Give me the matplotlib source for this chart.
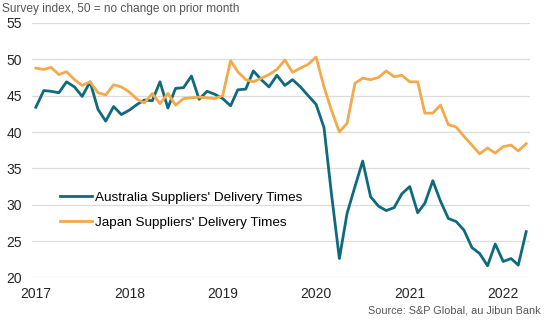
import numpy as np
import pandas as pd
import matplotlib.pyplot as plt
import matplotlib.dates as mdates

# monthly survey index, Jan 2017 - Apr 2022
months = pd.date_range('2017-01-01', periods=64, freq='MS')

australia = [43.4, 45.7, 45.6, 45.4, 46.9, 46.2, 44.9, 46.9, 43.1, 41.5, 43.5, 42.4,
             43.0, 43.8, 44.4, 44.3, 46.9, 43.3, 46.0, 46.1, 47.7, 44.5, 45.6, 45.2,
             44.6, 43.6, 45.8, 45.9, 48.4, 47.2, 46.2, 47.8, 46.4, 47.2, 46.2, 45.0,
             43.8, 40.6, 31.5, 22.6, 28.8, 32.5, 36.0, 31.1, 29.8, 29.2, 29.6, 31.5,
             32.5, 28.9, 30.2, 33.3, 30.5, 28.1, 27.7, 26.5, 24.1, 23.3, 21.6, 24.6,
             22.2, 22.6, 21.7, 26.3]

japan = [48.8, 48.6, 48.9, 47.9, 48.3, 47.2, 46.4, 46.9, 45.4, 45.1, 46.5, 46.2,
         45.5, 44.5, 44.0, 45.3, 43.9, 45.3, 43.7, 44.6, 44.7, 44.8, 44.7, 44.6,
         45.0, 49.8, 48.3, 47.2, 46.9, 47.4, 47.9, 48.6, 49.9, 48.2, 48.8, 49.3,
         50.3, 46.2, 43.0, 40.0, 41.2, 46.7, 47.4, 47.2, 47.5, 48.4, 47.6, 47.8,
         46.9, 46.9, 42.6, 42.6, 43.7, 41.0, 40.7, 39.4, 38.2, 37.0, 37.8, 37.1,
         38.0, 38.2, 37.4, 38.4]

labels = ["Australia Suppliers' Delivery Times", "Japan Suppliers' Delivery Times"]
colors = ['#0e6a7e', '#f2aa4c']

plt.rcParams['font.family'] = ['Liberation Sans', 'DejaVu Sans']

fig = plt.figure(figsize=(5.47, 3.23), dpi=100)
ax = fig.add_axes([0.0585, 0.141, 0.9105, 0.788])

ax.plot(months, australia, color=colors[0], lw=2.0, label=labels[0])
ax.plot(months, japan, color=colors[1], lw=2.0, label=labels[1])

ax.set_ylim(20, 55)
ax.set_yticks(range(20, 56, 5))
ax.set_xlim(months[0] - pd.Timedelta(days=15), months[-1] + pd.Timedelta(days=15))
ax.xaxis.set_major_locator(mdates.YearLocator())
ax.xaxis.set_major_formatter(mdates.DateFormatter('%Y'))

ax.grid(axis='y', color='#dcdcdc', lw=0.9)
ax.set_axisbelow(True)
for s in ax.spines.values():
    s.set_visible(False)
ax.tick_params(length=0, labelsize=10, colors='#262626')
ax.tick_params(axis='y', pad=7)
ax.tick_params(axis='x', pad=7)

ax.legend(loc='upper left', bbox_to_anchor=(0.046, 0.358), frameon=False, fontsize=9.7,
          handlelength=2.35, handletextpad=0.25, labelspacing=0.92, borderaxespad=0)

fig.text(0.004, 0.972, 'Survey index, 50 = no change on prior month', fontsize=8.6,
         color='#555555', va='center', ha='left')
fig.text(0.989, 0.04, 'Source: S&P Global, au Jibun Bank', fontsize=7.8,
         color='#555555', va='center', ha='right')

fig.savefig('out.png', dpi=100)
